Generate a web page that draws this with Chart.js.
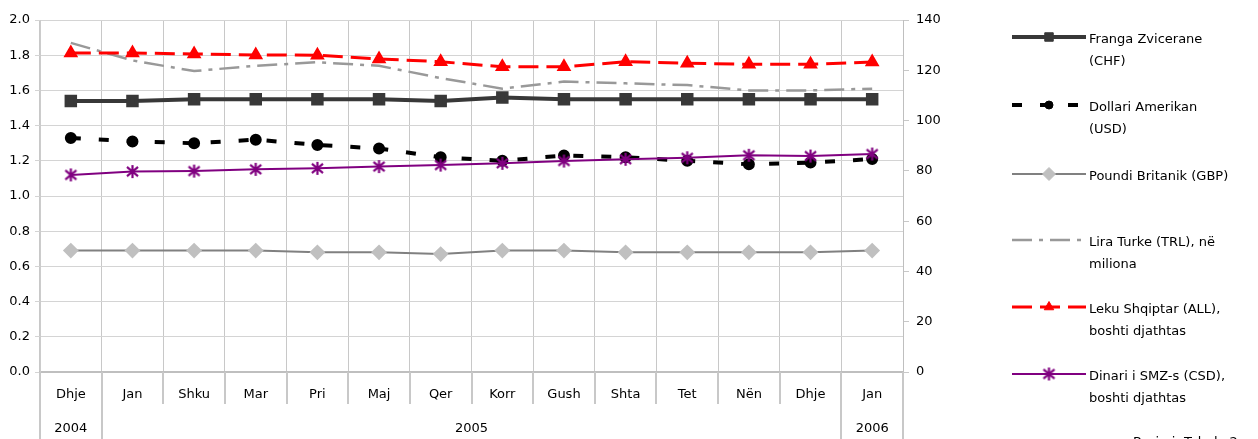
<!DOCTYPE html>
<html>
<head>
<meta charset="utf-8">
<script src="https://cdn.jsdelivr.net/npm/chart.js@4.4.1/dist/chart.umd.min.js"></script>
<style>
  html, body { margin: 0; padding: 0; background: #fff; }
  #wrap { width: 1258px; height: 439px; position: relative; }
</style>
</head>
<body>
<div id="wrap"><canvas id="myChart" width="1258" height="439"></canvas></div>
<script>
// categories
const months = ['Dhje', 'Jan', 'Shku', 'Mar', 'Pri', 'Maj', 'Qer', 'Korr', 'Gush', 'Shta', 'Tet', 'Nën', 'Dhje', 'Jan'];
const years = ['2004', '2005', '2006'];
const yearSpans = [1, 12, 1];

// left axis series
const chf = [1.54, 1.54, 1.55, 1.55, 1.55, 1.55, 1.54, 1.56, 1.55, 1.55, 1.55, 1.55, 1.55, 1.55];
const usd = [1.33, 1.31, 1.30, 1.32, 1.29, 1.27, 1.22, 1.20, 1.23, 1.22, 1.20, 1.18, 1.19, 1.21];
const gbp = [0.69, 0.69, 0.69, 0.69, 0.68, 0.68, 0.67, 0.69, 0.69, 0.68, 0.68, 0.68, 0.68, 0.69];
const trl = [1.87, 1.77, 1.71, 1.74, 1.76, 1.74, 1.67, 1.61, 1.65, 1.64, 1.63, 1.60, 1.60, 1.61];
// right axis series
const all = [126.9, 126.9, 126.5, 126.1, 126.0, 124.5, 123.4, 121.4, 121.4, 123.4, 122.8, 122.4, 122.4, 123.3];
const csd = [78.4, 79.7, 79.9, 80.6, 81.0, 81.7, 82.3, 83.0, 83.9, 84.6, 85.2, 86.2, 85.9, 86.7];

const legendLines = [
  ['Franga Zvicerane', '(CHF)'],
  ['Dollari Amerikan', '(USD)'],
  ['Poundi Britanik (GBP)'],
  ['Lira Turke (TRL), në', 'miliona'],
  ['Leku Shqiptar (ALL),', 'boshti djathtas'],
  ['Dinari i SMZ-s (CSD),', 'boshti djathtas']
];

const FONT = 'DejaVu Sans';

// excel-like asterisk marker
function makeStar(size, color) {
  const c = document.createElement('canvas');
  c.width = size; c.height = size;
  const g = c.getContext('2d');
  g.strokeStyle = color;
  g.lineWidth = 2.2;
  const m = size / 2, r = size / 2 - 1;
  g.beginPath();
  g.moveTo(m, m - r); g.lineTo(m, m + r);
  g.moveTo(m - r * 0.85, m - r * 0.7); g.lineTo(m + r * 0.85, m + r * 0.7);
  g.moveTo(m + r * 0.85, m - r * 0.7); g.lineTo(m - r * 0.85, m + r * 0.7);
  g.stroke();
  return c;
}
const star = makeStar(15, '#800080');

// separators under the x axis and the year row
const categoryRows = {
  id: 'categoryRows',
  afterDraw(chart) {
    const ctx = chart.ctx;
    const area = chart.chartArea;
    const n = months.length;
    const w = (area.right - area.left) / n;
    const yearEdges = [0];
    yearSpans.forEach(s => yearEdges.push(yearEdges[yearEdges.length - 1] + s));
    ctx.save();
    ctx.strokeStyle = '#c8c8c8';
    ctx.lineWidth = 2;
    for (let i = 0; i <= n; i++) {
      const px = Math.round(area.left + i * w);
      const full = yearEdges.includes(i);
      ctx.beginPath();
      ctx.moveTo(px, area.bottom);
      ctx.lineTo(px, full ? 439 : 404);
      ctx.stroke();
    }
    ctx.fillStyle = '#000';
    ctx.font = '13px "' + FONT + '"';
    ctx.textAlign = 'center';
    ctx.textBaseline = 'middle';
    years.forEach((yr, i) => {
      const a = area.left + yearEdges[i] * w;
      const b = area.left + yearEdges[i + 1] * w;
      ctx.fillText(yr, (a + b) / 2, 429);
    });
    ctx.restore();
  }
};

// legend on the right with wrapped names
const sideLegend = {
  id: 'sideLegend',
  afterDraw(chart) {
    const ctx = chart.ctx;
    const rows = [37, 105, 174, 240, 307, 374];
    ctx.save();
    chart.data.datasets.forEach((ds, i) => {
      const y = rows[i];
      ctx.strokeStyle = ds.borderColor;
      ctx.lineWidth = ds.borderWidth;
      ctx.setLineDash(ds.borderDash || []);
      ctx.beginPath();
      ctx.moveTo(1012, y);
      ctx.lineTo(1086, y);
      ctx.stroke();
      ctx.setLineDash([]);
      if (ds.pointRadius > 0) {
        ctx.fillStyle = ds.pointBackgroundColor;
        ctx.strokeStyle = ds.pointBorderColor;
        ctx.lineWidth = 1;
        Chart.helpers.drawPoint(ctx, { pointStyle: ds.pointStyle, radius: ds.pointRadius, rotation: 0, borderWidth: 1 }, 1049, y);
      }
      ctx.fillStyle = '#000';
      ctx.font = '13px "' + FONT + '"';
      ctx.textAlign = 'left';
      ctx.textBaseline = 'middle';
      legendLines[i].forEach((t, k) => ctx.fillText(t, 1089, y + 3 + k * 22));
    });
    ctx.fillText('Burimi: Tabela 2', 1133, 443);
    ctx.restore();
  }
};

const ctx = document.getElementById('myChart');

new Chart(ctx, {
  type: 'line',
  data: {
    labels: months,
    datasets: [
      {
        label: legendLines[0].join(' '),
        data: chf,
        yAxisID: 'y',
        borderColor: '#383838',
        borderWidth: 4,
        pointStyle: 'rect',
        pointRadius: 6,
        pointBackgroundColor: '#383838',
        pointBorderColor: '#383838',
        order: 3
      },
      {
        label: legendLines[1].join(' '),
        data: usd,
        yAxisID: 'y',
        borderColor: '#000000',
        borderWidth: 4,
        borderDash: [10, 18],
        pointStyle: 'circle',
        pointRadius: 4,
        pointBackgroundColor: '#000000',
        pointBorderColor: '#000000',
        order: 4
      },
      {
        label: legendLines[2].join(' '),
        data: gbp,
        yAxisID: 'y',
        borderColor: '#808080',
        borderWidth: 2,
        pointStyle: 'rectRot',
        pointRadius: 6.5,
        pointBackgroundColor: '#c0c0c0',
        pointBorderColor: '#c0c0c0',
        order: 5
      },
      {
        label: legendLines[3].join(' '),
        data: trl,
        yAxisID: 'y',
        borderColor: '#999999',
        borderWidth: 2.5,
        borderDash: [20, 7, 4, 7],
        pointRadius: 0,
        order: 6
      },
      {
        label: legendLines[4].join(' '),
        data: all,
        yAxisID: 'y1',
        borderColor: '#ff0000',
        borderWidth: 3,
        borderDash: [20, 8],
        pointStyle: 'triangle',
        pointRadius: 5.5,
        pointBackgroundColor: '#ff0000',
        pointBorderColor: '#ff0000',
        order: 2
      },
      {
        label: legendLines[5].join(' '),
        data: csd,
        yAxisID: 'y1',
        borderColor: '#800080',
        borderWidth: 2,
        pointStyle: star,
        pointRadius: 7,
        pointBackgroundColor: '#800080',
        pointBorderColor: '#800080',
        order: 1
      }
    ]
  },
  options: {
    responsive: false,
    animation: false,
    layout: { padding: { top: 20, right: 295, left: 0, bottom: 0 } },
    plugins: {
      legend: { display: false },
      tooltip: { enabled: false }
    },
    elements: { line: { tension: 0 } },
    scales: {
      x: {
        offset: true,
        grid: { offset: true, color: '#c8c8c8', drawTicks: false },
        border: { color: '#bfbfbf', width: 2 },
        ticks: { color: '#000', padding: 15, font: { family: FONT, size: 13 }, maxRotation: 0, autoSkip: false },
        afterFit(scale) { scale.height = 67; }
      },
      y: {
        position: 'left',
        min: 0,
        max: 2,
        grid: { color: '#d4d4d4', tickLength: 5 },
        border: { color: '#cccccc', width: 1 },
        ticks: {
          stepSize: 0.2,
          padding: 5,
          color: '#000',
          font: { family: FONT, size: 13 },
          callback: v => v.toFixed(1)
        },
        afterFit(scale) { scale.width = 40; }
      },
      y1: {
        position: 'right',
        min: 0,
        max: 140,
        grid: { drawOnChartArea: false, color: '#c8c8c8', tickLength: 6 },
        border: { color: '#bfbfbf', width: 1 },
        ticks: { stepSize: 20, padding: 7, color: '#000', font: { family: FONT, size: 13 } },
        afterFit(scale) { scale.width = 60; }
      }
    }
  },
  plugins: [categoryRows, sideLegend]
});
</script>
</body>
</html>
